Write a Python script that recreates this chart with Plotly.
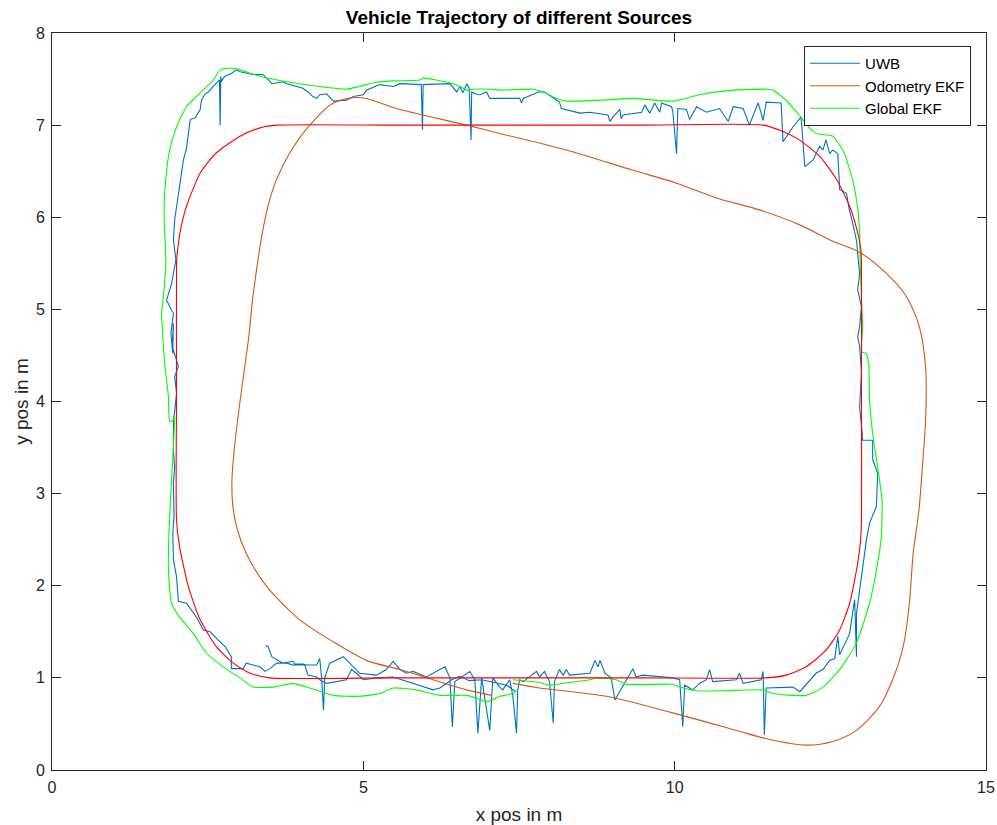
import plotly.graph_objects as go

# ---------------- data (metres) ----------------
# reference path (rounded rectangle)
ref_x = [3.5, 5.5, 7.5, 9.5, 11.47, 11.79, 12.11, 12.43, 12.65, 12.81, 12.92, 12.98, 13.0, 13.0, 13.0,
         12.99, 12.94, 12.81, 12.6, 12.33, 12.0, 11.74, 11.42, 9.5, 7.5, 5.5, 3.61, 3.34, 3.02, 2.64,
         2.38, 2.16, 2.06, 2.01, 2.0, 2.0, 2.0, 2.05, 2.19, 2.38, 2.64, 2.91, 3.18, 3.5]
ref_y = [1.0, 1.0, 1.0, 1.0, 1.0, 1.03, 1.12, 1.30, 1.52, 1.81, 2.17, 2.45, 2.71, 4.1, 5.5,
         5.65, 5.83, 6.12, 6.41, 6.66, 6.84, 6.93, 7.0, 7.0, 7.0, 7.0, 7.0, 6.97, 6.88, 6.70,
         6.48, 6.12, 5.85, 5.6, 5.5, 4.1, 2.71, 2.42, 1.99, 1.63, 1.34, 1.16, 1.05, 1.0]

# UWB positions
uwb_x = [3.43, 3.47, 3.53, 3.63, 3.71, 3.87, 3.9, 4.03, 4.09, 4.25, 4.30, 4.33, 4.36, 4.38, 4.46,
         4.68, 4.78, 4.94, 5.21, 5.37, 5.48, 5.59, 5.69, 5.8, 6.01, 6.31, 6.39, 6.43, 6.47, 6.71,
         6.79, 6.84, 6.9, 7.03, 7.08, 7.19, 7.24, 7.35, 7.4, 7.46, 7.48, 7.51, 7.57, 7.78, 7.83,
         7.91, 7.99, 8.05, 8.07, 8.15, 8.21, 8.26, 8.31, 8.64, 8.72, 8.77, 8.80, 8.88, 8.98, 9.04,
         9.33, 9.38, 9.49, 9.97, 10.08, 10.13, 10.16, 10.29, 10.4, 10.51, 10.56, 10.61, 10.99, 11.04, 11.10,
         11.39, 11.42, 11.44, 11.47, 11.9, 12.01, 12.22, 12.27, 12.38, 12.49, 12.57, 12.62, 12.65, 12.81, 12.89,
         12.92, 12.92, 13.0, 13.08, 13.13, 13.24, 13.26, 13.18, 13.18, 13.02, 13.0, 12.97, 13.0, 12.97, 12.94,
         12.97, 13.0, 12.94, 12.97, 12.92, 12.86, 12.8, 12.76, 12.65, 12.62, 12.54, 12.49, 12.46, 12.43, 12.38,
         12.33, 12.22, 12.09, 12.03, 11.9, 11.74, 11.71, 11.47, 11.42, 11.39, 11.34, 11.2, 11.1, 10.94, 10.86,
         10.72, 10.51, 10.35, 10.24, 10.19, 10.05, 10.03, 9.97, 9.95, 9.79, 9.76, 9.68, 9.6, 9.52, 9.47,
         9.17, 9.14, 9.12, 9.01, 8.96, 8.93, 8.64, 8.48, 8.18, 8.15, 7.91, 7.81, 7.57, 7.54, 7.51,
         7.35, 7.03, 6.98, 6.87, 6.79, 6.74, 6.73, 6.7, 6.66, 6.6, 6.55, 6.5, 6.39, 5.96, 5.95,
         5.93, 5.59, 5.48, 5.26, 5.05, 5.0, 4.84, 4.73, 4.52, 4.41, 4.3, 4.25, 4.19, 4.11, 4.03,
         3.93, 3.77, 3.71, 3.53, 3.39, 3.23, 3.15, 3.02, 2.96, 2.88, 2.78, 2.75, 2.72, 2.71, 2.70,
         2.69, 2.59, 2.51, 2.46, 2.4, 2.38, 2.3, 2.22, 2.19, 2.16, 2.11, 2.08, 2.05, 2.0, 1.97,
         1.95, 1.99, 1.92, 1.84, 1.92, 1.95, 1.91, 1.94, 1.95, 1.93, 2.0, 2.03, 1.97, 2.0, 1.97,
         1.95, 1.95, 1.97, 1.95, 1.96, 1.94, 1.95, 2.0, 2.03, 2.16, 2.32, 2.43, 2.54, 2.67, 2.78,
         2.88, 2.88, 3.07, 3.12, 3.34, 3.42, 3.5, 3.61, 3.77, 3.87, 4.06, 4.11, 4.25, 4.30, 4.41,
         4.73, 4.81, 4.89, 5.0, 5.21, 5.48, 5.8, 5.96, 6.12, 6.23, 6.42, 6.55, 6.7, 6.9, 7.1,
         7.3, 7.45]
uwb_y = [1.35, 1.34, 1.23, 1.19, 1.16, 1.18, 1.15, 1.15, 1.14, 1.14, 1.21, 1.0, 0.65, 1.0, 1.16,
         1.23, 1.16, 1.05, 1.03, 1.09, 1.18, 1.09, 1.05, 1.07, 1.01, 1.12, 1.0, 0.47, 0.96, 1.07,
         0.98, 0.40, 1.0, 0.43, 1.0, 0.9, 0.87, 0.98, 0.81, 0.40, 0.87, 0.98, 0.96, 1.07, 1.01,
         1.07, 0.96, 0.51, 0.96, 1.09, 1.03, 1.09, 1.03, 1.05, 1.19, 1.12, 1.19, 1.05, 1.0, 0.76,
         1.10, 1.01, 1.03, 1.0, 0.98, 0.47, 0.92, 0.87, 0.94, 0.98, 1.09, 0.96, 0.98, 1.05, 0.94,
         0.98, 1.07, 0.38, 0.89, 0.9, 0.85, 1.01, 1.05, 1.09, 1.19, 1.21, 1.45, 1.25, 1.48, 1.85,
         1.23, 1.70, 2.13, 2.50, 2.68, 2.86, 3.22, 3.37, 3.58, 3.58, 3.73, 3.94, 4.31, 4.60, 4.70,
         4.81, 5.03, 5.21, 5.39, 5.75, 5.93, 6.1, 6.26, 6.30, 6.69, 6.73, 6.69, 6.77, 6.84, 6.73,
         6.77, 6.62, 6.55, 7.09, 6.98, 6.82, 7.24, 7.25, 7.05, 7.13, 7.24, 7.0, 7.18, 7.2, 7.04,
         7.18, 7.14, 7.2, 7.06, 7.17, 7.18, 6.69, 7.15, 7.2, 7.24, 7.14, 7.24, 7.13, 7.22, 7.14,
         7.11, 7.07, 7.17, 7.09, 7.04, 7.11, 7.14, 7.13, 7.18, 7.25, 7.36, 7.36, 7.29, 7.24, 7.29,
         7.29, 7.29, 7.36, 7.33, 7.34, 7.36, 6.84, 7.4, 7.45, 7.35, 7.42, 7.36, 7.45, 7.44, 6.95,
         7.44, 7.45, 7.42, 7.44, 7.38, 7.33, 7.31, 7.27, 7.26, 7.34, 7.33, 7.29, 7.31, 7.36, 7.4,
         7.42, 7.45, 7.47, 7.45, 7.55, 7.55, 7.56, 7.58, 7.6, 7.56, 7.53, 7.51, 7.47, 7.53, 7.0,
         7.49, 7.42, 7.36, 7.34, 7.27, 7.17, 7.08, 7.06, 6.91, 6.75, 6.62, 6.48, 6.33, 6.12, 5.97,
         5.75, 5.54, 5.28, 5.10, 4.99, 4.96, 4.74, 4.52, 4.85, 4.6, 4.45, 4.38, 4.27, 4.09, 3.89,
         3.8, 3.47, 3.29, 3.11, 2.75, 2.57, 2.28, 2.10, 1.83, 1.81, 1.66, 1.52, 1.50, 1.41, 1.34,
         1.23, 1.10, 1.10, 1.16, 1.12, 1.07, 1.10, 1.16, 1.16, 1.14, 1.14, 1.03, 1.01, 0.98, 0.94,
         0.98, 1.09, 1.05, 0.98, 1.0, 1.01, 0.94, 0.9, 0.87, 0.89, 0.98, 1.02, 0.97, 0.98, 0.95,
         0.92, 0.85]

# odometry EKF estimate
odo_x = [7.4, 7.83, 8.9, 9.97, 11.04, 11.47, 12.11, 12.54, 12.92, 13.29, 13.5, 13.67, 13.77, 13.83, 13.92,
         13.98, 14.03, 14.04, 14.03, 13.93, 13.72, 13.4, 12.97, 12.54, 12.0, 11.36, 10.67, 10.03, 9.33, 8.26,
         7.19, 6.66, 5.59, 4.94, 4.52, 4.14, 3.82, 3.6, 3.46, 3.37, 3.3, 3.22, 3.16, 3.08, 3.0,
         2.93, 2.89, 2.9, 2.96, 3.12, 3.45, 3.98, 4.52, 5.05, 5.59, 6.12, 6.66, 7.06]
odo_y = [0.94, 0.89, 0.80, 0.62, 0.42, 0.34, 0.27, 0.31, 0.43, 0.69, 0.98, 1.34, 1.81, 2.35, 2.8,
         3.3, 3.8, 4.1, 4.38, 4.81, 5.14, 5.39, 5.62, 5.74, 5.92, 6.08, 6.21, 6.37, 6.51, 6.73,
         6.91, 7.0, 7.17, 7.30, 7.24, 7.0, 6.70, 6.4, 6.1, 5.8, 5.5, 5.1, 4.7, 4.3, 3.9,
         3.5, 3.15, 2.9, 2.65, 2.35, 1.99, 1.63, 1.39, 1.19, 1.09, 0.98, 0.87, 0.81]

# global EKF estimate
glob_x = [7.4, 7.83, 7.99, 8.3, 8.64, 8.74, 9.06, 9.22, 9.97, 10.08, 10.35, 10.78, 11.42, 11.58, 12.11,
          12.38, 12.65, 12.92, 13.13, 13.24, 13.32, 13.33, 13.26, 13.18, 13.13, 13.12, 13.08, 13.0, 13.02, 13.0,
          12.98, 12.97, 12.94, 12.86, 12.72, 12.54, 12.33, 12.22, 12.0, 11.79, 11.58, 11.47, 10.94, 10.4, 9.97,
          9.33, 8.8, 8.26, 8.1, 7.89, 7.73, 7.19, 7.03, 6.76, 6.66, 6.55, 6.39, 5.96, 5.91, 5.48,
          5.16, 4.94, 4.73, 4.41, 3.87, 3.34, 3.02, 2.86, 2.7, 2.59, 2.38, 2.16, 2.0, 1.89, 1.83,
          1.8, 1.81, 1.83, 1.79, 1.76, 1.79, 1.81, 1.87, 1.89, 1.95, 1.97, 1.95, 1.92, 1.88, 1.87,
          1.92, 2.05, 2.27, 2.48, 2.75, 3.02, 3.23, 3.55, 3.87, 4.09, 4.52, 4.94, 5.26, 5.48, 5.85,
          6.23, 6.66, 6.82, 6.98, 7.19, 7.4, 7.48]
glob_y = [0.98, 0.95, 0.92, 0.95, 0.98, 1.0, 0.98, 0.93, 0.93, 0.9, 0.86, 0.86, 0.87, 0.83, 0.81,
          0.9, 1.09, 1.38, 1.81, 2.17, 2.53, 2.93, 3.29, 3.65, 4.02, 4.38, 4.52, 4.54, 4.8, 5.1,
          5.5, 5.83, 6.1, 6.4, 6.7, 6.88, 6.9, 6.93, 7.11, 7.27, 7.38, 7.39, 7.38, 7.33, 7.26,
          7.29, 7.27, 7.26, 7.29, 7.36, 7.39, 7.38, 7.39, 7.39, 7.38, 7.42, 7.46, 7.51, 7.49, 7.48,
          7.46, 7.42, 7.39, 7.41, 7.46, 7.53, 7.6, 7.62, 7.6, 7.49, 7.35, 7.2, 6.98, 6.73, 6.44,
          6.12, 5.83, 5.54, 5.14, 4.96, 4.6, 4.41, 4.05, 3.78, 3.8, 3.85, 3.51, 3.15, 2.61, 2.17,
          1.81, 1.66, 1.48, 1.27, 1.12, 1.0, 0.9, 0.9, 0.94, 0.9, 0.81, 0.8, 0.83, 0.89, 0.87,
          0.81, 0.81, 0.78, 0.74, 0.8, 0.83, 0.87]

x_ticks = [0, 5, 10, 15]
y_ticks = [0, 1, 2, 3, 4, 5, 6, 7, 8]

# ---------------- figure ----------------
FONT = "Liberation Sans, Arial, sans-serif"
AX_COLOR = "#262626"

fig = go.Figure()
fig.add_trace(go.Scatter(x=uwb_x, y=uwb_y, mode="lines", name="UWB",
                         line=dict(color="#0072BD", width=1.1)))
fig.add_trace(go.Scatter(x=odo_x, y=odo_y, mode="lines", name="Odometry EKF",
                         line=dict(color="#D95319", width=1.1, shape="spline", smoothing=0.8)))
fig.add_trace(go.Scatter(x=glob_x, y=glob_y, mode="lines", name="Global EKF",
                         line=dict(color="#00FF00", width=1.1, shape="spline", smoothing=0.5)))
fig.add_trace(go.Scatter(x=ref_x, y=ref_y, mode="lines", name="Reference", showlegend=False,
                         line=dict(color="#FF0000", width=1.1, shape="spline", smoothing=0.6)))

axis_common = dict(
    showgrid=False, zeroline=False, showline=True, linecolor=AX_COLOR, linewidth=1,
    mirror="ticks", ticks="inside", ticklen=9, tickwidth=1, tickcolor=AX_COLOR,
    tickfont=dict(family=FONT, size=16, color=AX_COLOR), automargin=False,
)

fig.update_xaxes(range=[0, 15], tickvals=x_ticks, ticktext=[str(v) for v in x_ticks],
                 ticklabelstandoff=3,
                 title=dict(text="x pos in m", font=dict(family=FONT, size=19, color=AX_COLOR), standoff=13),
                 **axis_common)
fig.update_yaxes(range=[0, 8], tickvals=y_ticks, ticktext=[str(v) for v in y_ticks],
                 ticklabelstandoff=3,
                 title=dict(text="y pos in m", font=dict(family=FONT, size=19, color=AX_COLOR), standoff=2),
                 **axis_common)

fig.update_layout(
    width=997, height=825,
    margin=dict(l=52, r=11, t=33, b=55),
    paper_bgcolor="white", plot_bgcolor="white",
    title=dict(text="<b>Vehicle Trajectory of different Sources</b>", x=0.5, xref="paper",
               y=1 - 17 / 825, yref="container", yanchor="middle",
               font=dict(family=FONT, size=19, color="black")),
    legend=dict(x=0.984, y=0.9824, xanchor="right", yanchor="top",
                bgcolor="white", bordercolor=AX_COLOR, borderwidth=1,
                font=dict(family=FONT, size=15, color="black"),
                tracegroupgap=0, itemwidth=50),
    showlegend=True,
)

fig.write_html("out.html")
